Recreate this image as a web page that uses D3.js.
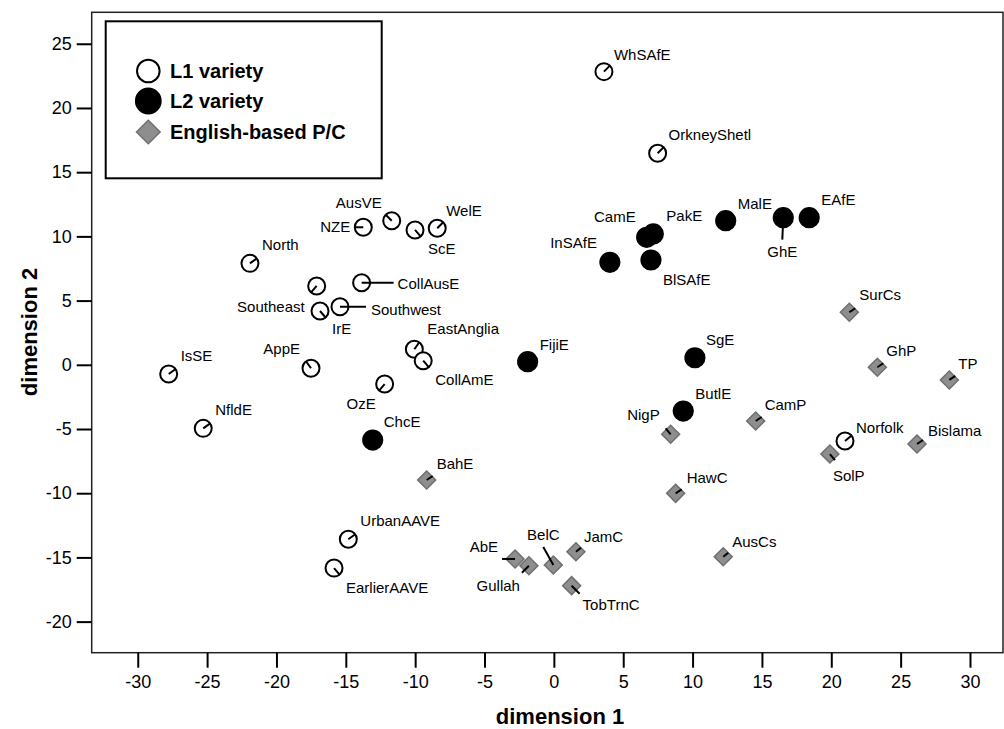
<!DOCTYPE html>
<html>
<head>
<meta charset="utf-8">
<script src="https://cdn.jsdelivr.net/npm/d3@7"></script>
<style>
  body { margin: 0; background: #fff; }
  text { font-family: "Liberation Sans", Arial, sans-serif; fill: #000; }
</style>
</head>
<body>
<div id="chart"></div>
<script>
// varieties of English, MDS dimensions
const names = ['WhSAfE','OrkneyShetl','WelE','ScE','AusVE','NZE','North','Southeast','IrE','Southwest',
  'CollAusE','EastAnglia','CollAmE','AppE','OzE','IsSE','NfldE','ChcE','BahE','UrbanAAVE','EarlierAAVE',
  'FijiE','SgE','ButlE','NigP','CamP','HawC','AusCs','AbE','Gullah','BelC','JamC','TobTrnC',
  'CamE','PakE','InSAfE','BlSAfE','MalE','GhE','EAfE','SurCs','GhP','TP','Norfolk','SolP','Bislama'];
const dim1 = [3.61, 7.48, -8.41, -10.01, -11.69, -13.74, -21.91, -17.10, -16.86, -15.42,
  -13.86, -10.06, -9.42, -17.51, -12.20, -27.77, -25.28, -13.06, -9.17, -14.82, -15.85,
  -1.89, 10.17, 9.33, 8.42, 14.55, 8.78, 12.21, -2.80, -1.80, -0.04, 1.59, 1.28,
  6.69, 7.17, 4.04, 7.00, 12.39, 16.54, 18.41, 21.30, 23.32, 28.51, 20.99, 19.90, 26.18];
const dim2 = [22.83, 16.47, 10.63, 10.50, 11.22, 10.71, 7.90, 6.14, 4.19, 4.52,
  6.39, 1.21, 0.32, -0.27, -1.50, -0.72, -4.95, -5.86, -8.97, -13.59, -15.83,
  0.24, 0.55, -3.60, -5.41, -4.38, -10.01, -14.95, -15.12, -15.65, -15.59, -14.56, -17.20,
  9.93, 10.19, 7.98, 8.16, 11.22, 11.46, 11.46, 4.09, -0.19, -1.18, -5.93, -6.95, -6.17];
// 1 = L1 variety, 2 = L2 variety, 3 = English-based P/C
const group = [1,1,1,1,1,1,1,1,1,1, 1,1,1,1,1,1,1,2,3,1,1, 2,2,2,3,3,3,3,3,3,3,3,3,
  2,2,2,2,2,2,2,3,3,3,1,3,3];

const legendLabels = ['L1 variety', 'L2 variety', 'English-based P/C'];
const xTicks = [-30,-25,-20,-15,-10,-5,0,5,10,15,20,25,30];
const yTicks = [-20,-15,-10,-5,0,5,10,15,20,25];

// label placement: [dx, dy, anchor] and leader line end [dx, dy], in px from the marker
const labelPlace = [[10,-12,'start'],[11,-13,'start'],[9,-12,'start'],[13,24,'start'],[-10,-13,'end'],
  [-13,5,'end'],[12,-13,'start'],[-12,26,'end'],[12,23,'start'],[31,8,'start'],
  [36,6,'start'],[13,-15,'start'],[12,24,'start'],[-11,-14,'end'],[-9,25,'end'],
  [12,-13,'start'],[12,-13,'start'],[11,-13,'start'],[10,-11,'start'],[12,-13,'start'],[12,25,'start'],
  [12,-12,'start'],[11,-13,'start'],[12,-12,'start'],[-11,-14,'end'],[9,-11,'start'],
  [11,-10,'start'],[9,-10,'start'],[-17,-7,'end'],[-9,25,'end'],[-10,-25,'middle'],[8,-10,'start'],[11,24,'start'],
  [-11,-15,'end'],[13,-13,'start'],[-13,-14,'end'],[12,25,'start'],[12,-12,'start'],[-1,39,'middle'],[12,-13,'start'],
  [10,-12,'start'],[9,-11,'start'],[9,-11,'start'],[11,-8,'start'],[3,27,'start'],[11,-8,'start']];
const leader = [[6,-6],[6,-6],[6,-6],[6,7],[-6,-6],[-9,0],[7,-5],[-6,7],[6,7],[26,0],
  [32,0],[5,-7],[6,7],[-5,-7],[-6,7],[7,-5],[7,-5],[7,-5],[6,-4],[7,-5],[6,7],
  [7,-5],[7,-5],[7,-5],[-5,-6],[6,-4],[6,-4],[5,-4],[-13,0],[-7,7],[-10,-18],[5,-4],[8,8],
  [-6,-6],[7,-6],[-6,-6],[7,7],[6,-6],[-1,22],[6,-6],[6,-4],[6,-4],[6,-4],[6,-5],[5,6],[6,-4]];

const width = 1004, height = 729;
const svg = d3.select('#chart').append('svg')
  .attr('width', width).attr('height', height);

const x = d3.scaleLinear().domain([-33.32, 32.38]).range([91.7, 1003]);
const y = d3.scaleLinear().domain([-22.42, 27.45]).range([652.7, 12.3]);

// frame
svg.append('rect')
  .attr('x', x.range()[0]).attr('y', y.range()[1])
  .attr('width', x.range()[1] - x.range()[0])
  .attr('height', y.range()[0] - y.range()[1])
  .attr('fill', 'none').attr('stroke', '#222').attr('stroke-width', 1.5);

// axes (plain hyphen for negatives)
const fmt = d => String(d);
const xAxis = svg.append('g')
  .attr('transform', `translate(0,${y.range()[0]})`)
  .call(d3.axisBottom(x).tickValues(xTicks).tickSize(15).tickPadding(8).tickFormat(fmt));
const yAxis = svg.append('g')
  .attr('transform', `translate(${x.range()[0]},0)`)
  .call(d3.axisLeft(y).tickValues(yTicks).tickSize(15).tickPadding(5).tickFormat(fmt));
[xAxis, yAxis].forEach(a => {
  a.select('.domain').remove();
  a.selectAll('.tick line').attr('stroke', '#000').attr('stroke-width', 2);
  a.selectAll('.tick text').attr('font-size', '18px').attr('font-family', '"Liberation Sans", Arial, sans-serif').attr('fill', '#000');
});

svg.append('text')
  .attr('x', 560).attr('y', 724)
  .attr('text-anchor', 'middle')
  .attr('font-size', '22px').attr('font-weight', 'bold')
  .text('dimension 1');
svg.append('text')
  .attr('transform', 'translate(37,332) rotate(-90)')
  .attr('text-anchor', 'middle')
  .attr('font-size', '22px').attr('font-weight', 'bold')
  .text('dimension 2');

const diamond = d3.symbol().type(d3.symbolSquare);

function drawMarker(g, grp, size) {
  if (grp === 3) {
    g.append('path')
      .attr('d', diamond.size(size * size * 2)())
      .attr('transform', 'rotate(45)')
      .attr('fill', '#8e8e8e').attr('stroke', '#6f6f6f').attr('stroke-width', 1.5);
  } else {
    g.append('circle')
      .attr('r', grp === 2 ? size + 0.6 : size - 0.5)
      .attr('fill', grp === 2 ? '#000' : '#fff')
      .attr('stroke', '#000').attr('stroke-width', 2);
  }
}

// points
const pts = svg.append('g').selectAll('g')
  .data(names.map((n, i) => ({ name: n, x: dim1[i], y: dim2[i], grp: group[i], lab: labelPlace[i], ld: leader[i] })))
  .enter().append('g')
  .attr('transform', d => `translate(${x(d.x)},${y(d.y)})`);

pts.each(function (d) {
  const g = d3.select(this);
  drawMarker(g, d.grp, 9);
  g.append('line')
    .attr('x1', 0).attr('y1', 0)
    .attr('x2', d.ld[0]).attr('y2', d.ld[1])
    .attr('stroke', '#000').attr('stroke-width', 2);
  g.append('text')
    .attr('x', d.lab[0]).attr('y', d.lab[1])
    .attr('text-anchor', d.lab[2])
    .attr('font-size', '15px')
    .text(d.name);
});

// legend
const legend = svg.append('g');
legend.append('rect')
  .attr('x', 105.7).attr('y', 21.3).attr('width', 276).attr('height', 157)
  .attr('fill', '#fff').attr('stroke', '#000').attr('stroke-width', 2);
const legRows = [71, 101, 132];
legendLabels.forEach((lbl, i) => {
  const g = legend.append('g').attr('transform', `translate(148.3,${legRows[i]})`);
  drawMarker(g, i + 1, 11.8);
  legend.append('text')
    .attr('x', 170).attr('y', legRows[i] + 7)
    .attr('font-size', '20px').attr('font-weight', 'bold')
    .text(lbl);
});
</script>
</body>
</html>
